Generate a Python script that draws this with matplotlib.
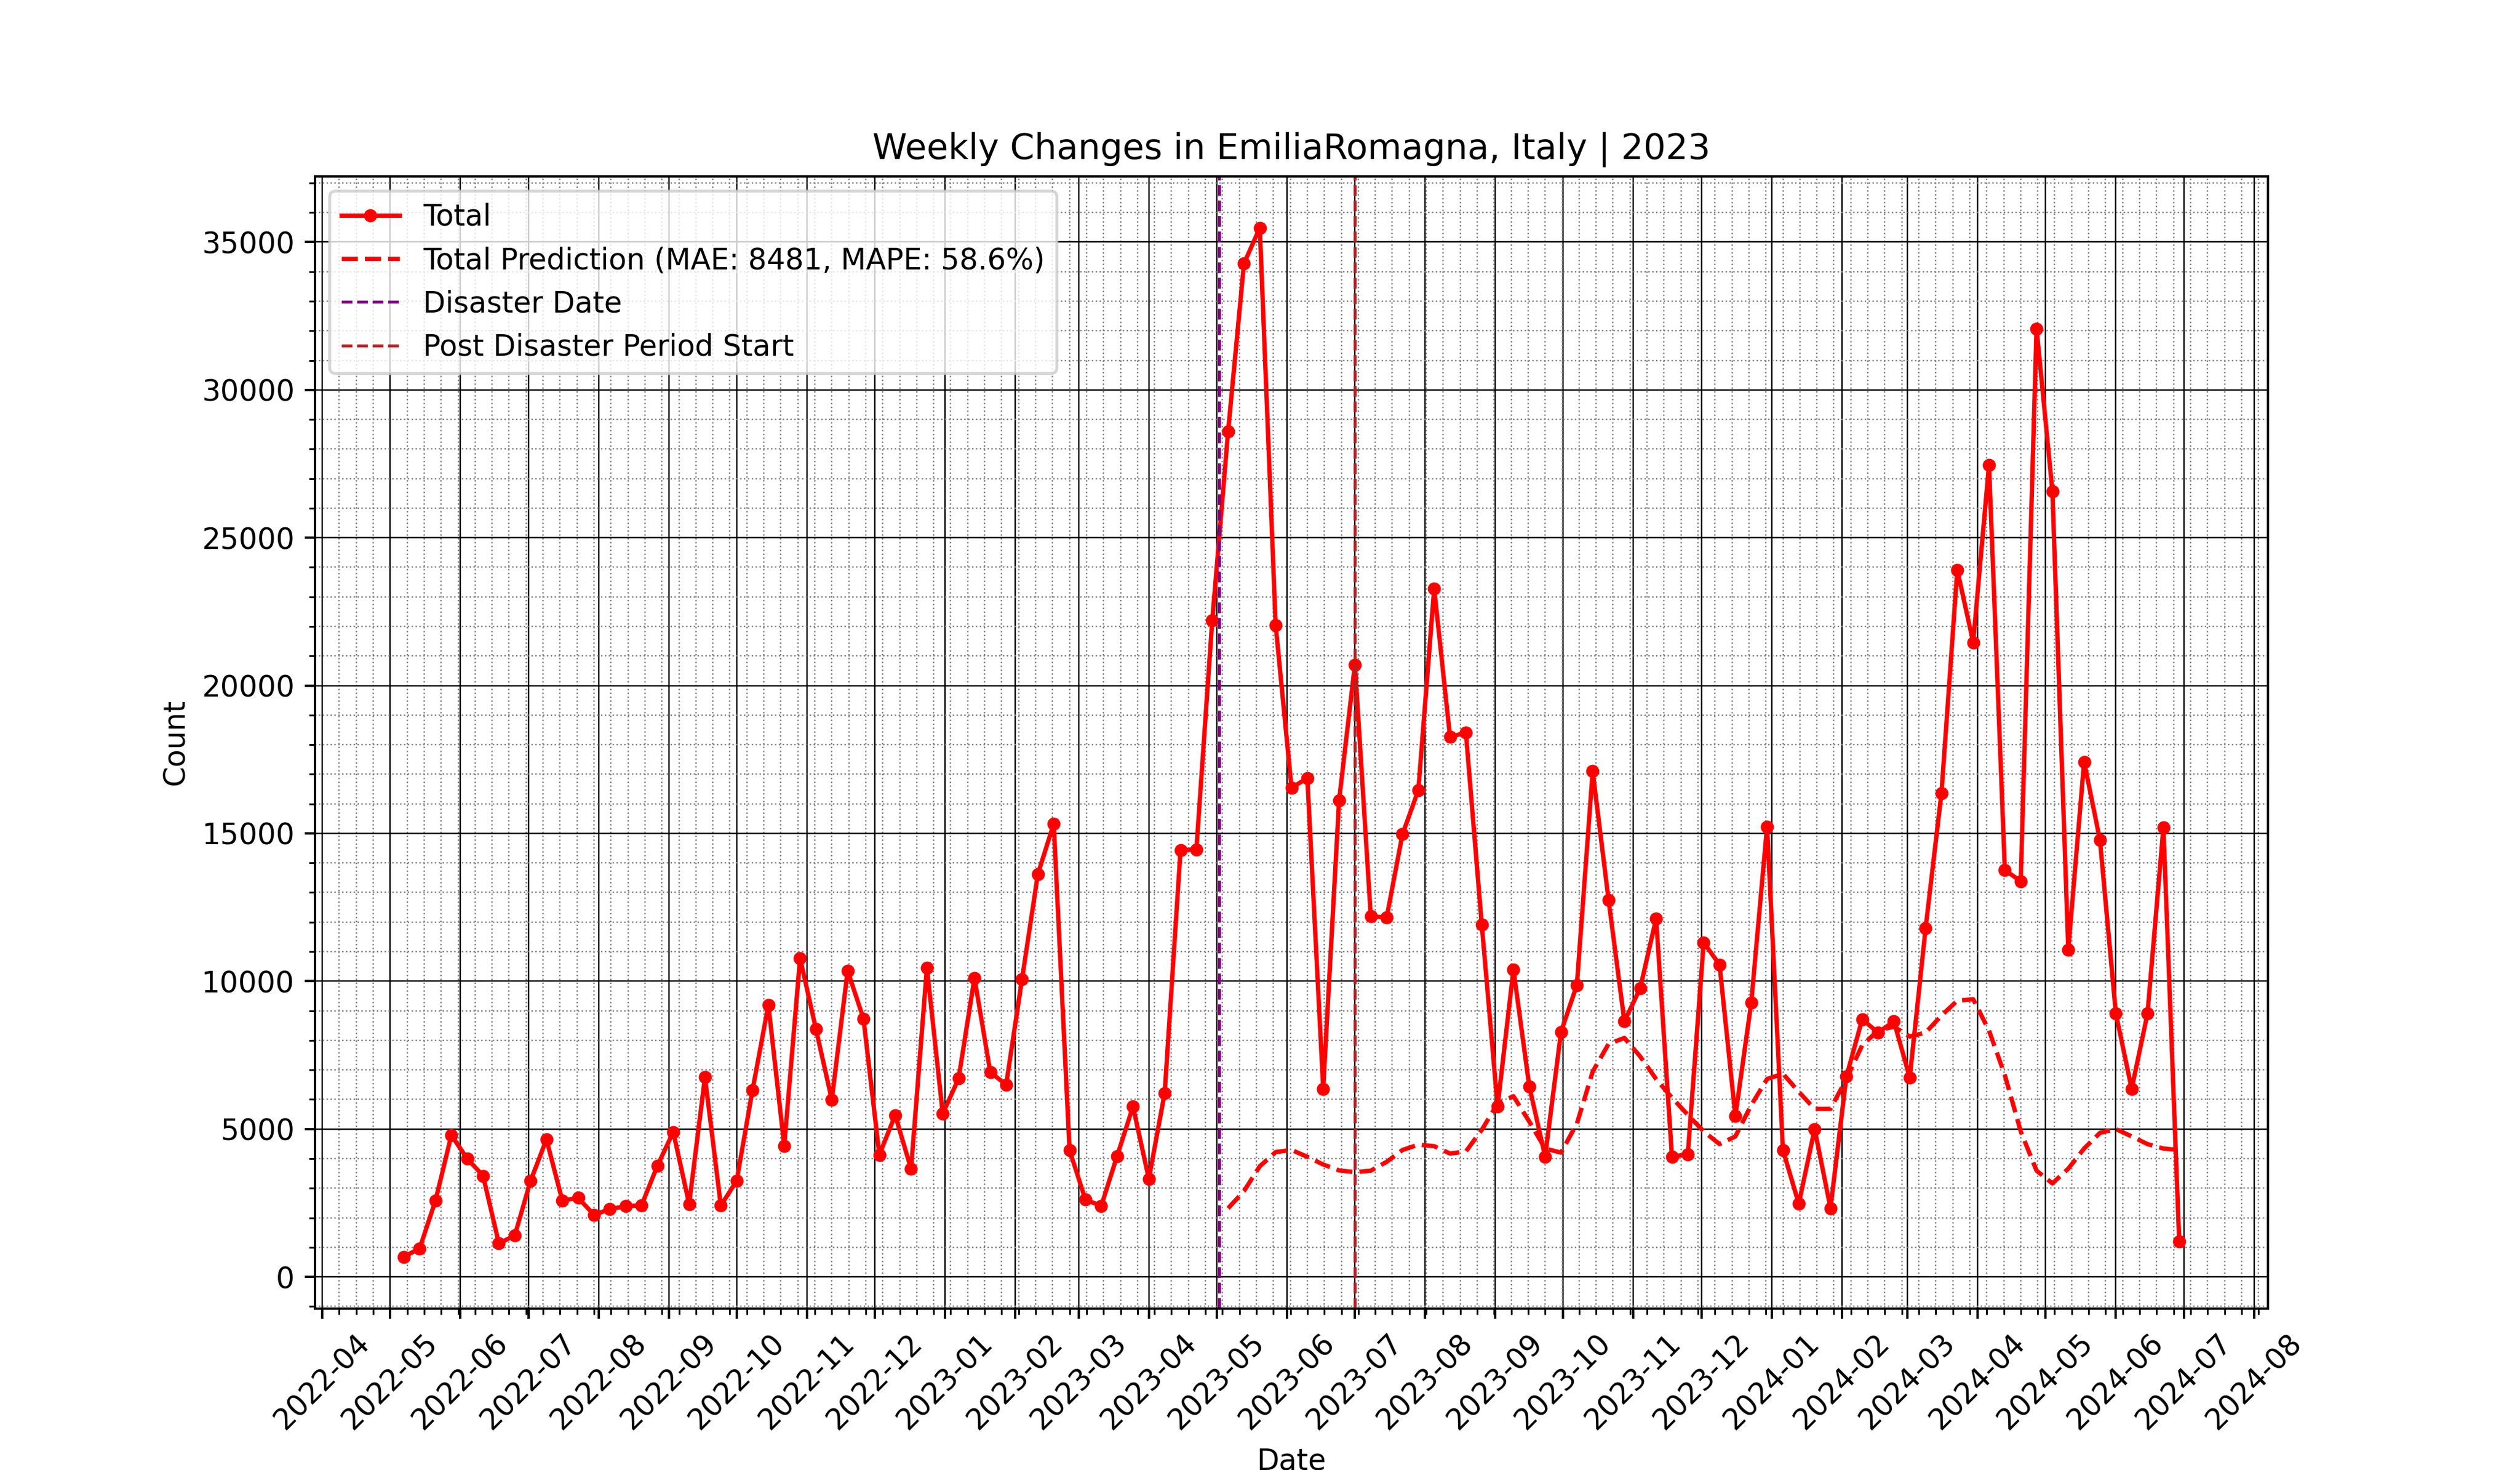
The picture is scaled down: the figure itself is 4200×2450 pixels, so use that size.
import numpy as np
import pandas as pd
import matplotlib
matplotlib.use("Agg")
import matplotlib.pyplot as plt
import matplotlib.dates as mdates

# weekly totals, one value per week (weeks ending on saturday)
weekStart = "2022-05-07"
weekEnd = "2024-06-29"

total = [
    676, 960, 2580, 4790, 4000, 3420, 1130, 1400, 3250, 4650,
    2580, 2670, 2100, 2290, 2390, 2420, 3760, 4900, 2460, 6750,
    2410, 3250, 6320, 9200, 4430, 10780, 8380, 5990, 10350, 8730,
    4130, 5470, 3650, 10450, 5520, 6710, 10110, 6920, 6500, 10070,
    13620, 15330, 4280, 2610, 2400, 4090, 5760, 3310, 6220, 14430,
    14460, 22200, 28590, 34270, 35480, 22050, 16540, 16870, 6360, 16110,
    20710, 12200, 12150, 14970, 16460, 23280, 18260, 18410, 11920, 5760,
    10400, 6440, 4070, 8280, 9870, 17100, 12750, 8640, 9770, 12120,
    4070, 4140, 11310, 10560, 5430, 9270, 15230, 4290, 2470, 5000,
    2320, 6770, 8710, 8260, 8640, 6740, 11790, 16360, 23910, 21460,
    27450, 13760, 13380, 32070, 26570, 11060, 17420, 14770, 8910, 6360,
    8910, 15200, 1190,
]

# prediction starts with the first week after the disaster
predStart = "2023-05-06"
prediction = [
    2320, 2900, 3740, 4220, 4290, 4060, 3800, 3600, 3540, 3590,
    3890, 4290, 4470, 4420, 4170, 4240, 4970, 5860, 6110, 5250,
    4340, 4200, 5180, 6940, 7880, 8080, 7450, 6690, 6060, 5480,
    4920, 4490, 4750, 5810, 6690, 6870, 6260, 5680, 5680, 6690,
    7830, 8330, 8460, 8130, 8260, 8840, 9340, 9390, 8330, 6820,
    4920, 3590, 3160, 3660, 4340, 4870, 5000, 4750, 4490, 4340,
    4290,
]

disasterDate = "2023-05-02"
postDisasterStart = "2023-07-01"

mae = 8481
mape = 58.6


def plotWeekly():
    dates = pd.date_range(weekStart, weekEnd, freq="7D")
    predDates = pd.date_range(predStart, periods=len(prediction), freq="7D")

    fig = plt.figure(figsize=(12, 7), dpi=350)
    ax = plt.gca()

    plt.plot(dates, total, marker="o", markersize=3.5, color="red", label="Total")
    plt.plot(predDates, prediction, "--", color="red",
             label=f"Total Prediction (MAE: {mae}, MAPE: {mape}%)")

    plt.axvline(pd.Timestamp(disasterDate), color="purple", linestyle="--",
                linewidth=1, label="Disaster Date")
    plt.axvline(pd.Timestamp(postDisasterStart), color="firebrick", linestyle="--",
                linewidth=1, label="Post Disaster Period Start")

    ax.xaxis.set_major_locator(mdates.MonthLocator())
    ax.xaxis.set_major_formatter(mdates.DateFormatter("%Y-%m"))
    plt.xticks(rotation=45)

    plt.minorticks_on()
    plt.grid(which="major", linestyle="-", linewidth=0.5, color="black")
    plt.grid(which="minor", linestyle=":", linewidth=0.5, color="gray")

    plt.title("Weekly Changes in EmiliaRomagna, Italy | 2023")
    plt.xlabel("Date")
    plt.ylabel("Count")
    plt.legend(loc="upper left")

    plt.savefig("out.png", dpi=350)


if __name__ == "__main__":
    plotWeekly()
